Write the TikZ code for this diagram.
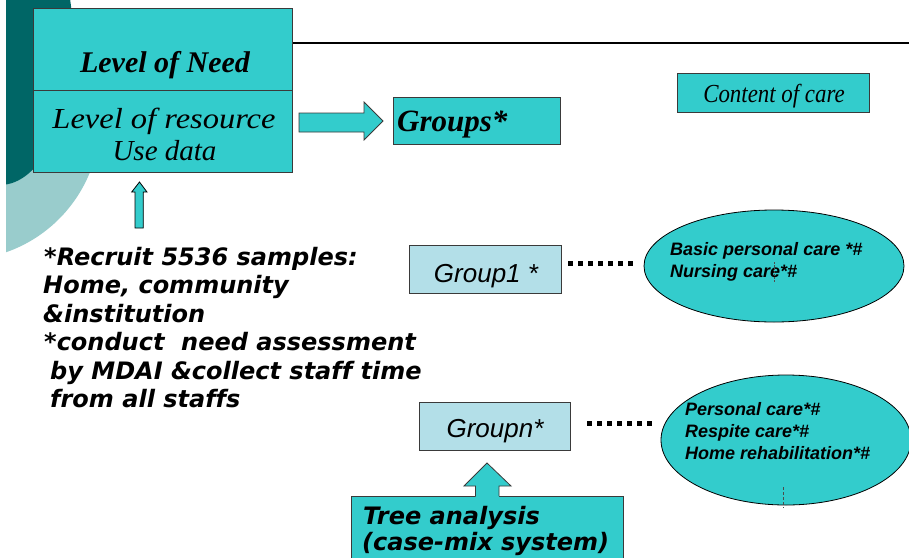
\documentclass[tikz,border=0pt]{standalone}
\usepackage{fontspec}
\setmainfont{Liberation Serif}
\newfontfamily\verd[Ligatures=NoCommon]{DejaVu Sans}
\newfontfamily\arial{Liberation Sans}
\usetikzlibrary{shapes.geometric}
\definecolor{teal1}{HTML}{33CCCC}
\definecolor{darkteal}{HTML}{006666}
\definecolor{lightteal}{HTML}{99CCCC}
\definecolor{grpfill}{HTML}{B3DFE8}
\definecolor{edgegray}{HTML}{3A3A3A}
\begin{document}
\begin{tikzpicture}[x=1pt,y=-1pt,
  tealbox/.style={draw=edgegray, line width=1pt, fill=teal1, inner sep=0pt, rectangle},
  grpbox/.style={draw=edgegray, line width=1pt, fill=grpfill, inner sep=0pt, rectangle},
  careell/.style={draw=black, line width=0.8pt, fill=teal1, ellipse, inner sep=0pt},
  blockarrow/.style={fill=teal1, draw=edgegray, line width=0.8pt, line join=miter},
  dotline/.style={line width=5pt, dash pattern=on 5pt off 5pt},
  lefttxt/.style={anchor=base west, inner sep=0pt, font=\verd\bfseries\itshape\fontsize{24}{28}\selectfont},
  elltxt/.style={anchor=base west, inner sep=0pt, font=\arial\bfseries\itshape\fontsize{18}{20}\selectfont},
  grptxt/.style={anchor=base, inner sep=0pt, font=\arial\itshape\fontsize{26}{28}\selectfont},
  treetxt/.style={anchor=base west, inner sep=0pt, font=\verd\bfseries\itshape\fontsize{24}{28}\selectfont},
  marktick/.style={line width=0.6pt, draw=black!70, dash pattern=on 1.5pt off 1.5pt}
]
\useasboundingbox (0,0) rectangle (909,557);
\clip (0,0) rectangle (909,557);
\fill[white] (0,0) rectangle (909,557);

% background decoration
\begin{scope}
  \clip (6,0) rectangle (909,557);
  \fill[lightteal] (-40,120) circle [radius=140];
  \fill[darkteal] (0,40) ellipse [x radius=73, y radius=145];
\end{scope}

% top rule
\coordinate (ruleA) at (292,43);
\coordinate (ruleB) at (909,43);
\draw[line width=2pt] (ruleA) -- (ruleB);

% main box
\node[tealbox, minimum width=259pt, minimum height=82pt] (need) at (162.5,49) {};
\node[tealbox, minimum width=259pt, minimum height=82pt] (resource) at (162.5,131) {};
\node[anchor=base, inner sep=0pt, font=\bfseries\itshape\fontsize{30}{32}\selectfont] (needtxt) at (165,72) {Level of Need};
\node[anchor=base, inner sep=0pt, font=\itshape\fontsize{29}{31}\selectfont] (restxt) at (164,128) {\scalebox{1.12}[1]{Level of resource}};
\node[anchor=base, inner sep=0pt, font=\itshape\fontsize{29}{31}\selectfont] (usetxt) at (164.5,160) {Use data};

% arrow to Groups
\filldraw[blockarrow] (299,113) -- (364,113) -- (364,102) -- (383,121) -- (364,140) -- (364,132) -- (299,132) -- cycle;

% Groups box
\node[tealbox, minimum width=167pt, minimum height=47pt] (groups) at (476.5,120.5) {};
\node[anchor=base west, inner sep=0pt, font=\bfseries\itshape\fontsize{31}{33}\selectfont] (groupstxt) at (397,131) {Groups*};

% Content of care
\node[tealbox, minimum width=192pt, minimum height=39pt] (content) at (773,92.5) {};
\node[anchor=base, inner sep=0pt, font=\itshape\fontsize{26}{28}\selectfont] (contenttxt) at (774,102) {\scalebox{0.88}[1]{Content of care}};

% small up arrow
\filldraw[fill=teal1, draw=black, line width=0.8pt] (135,228) -- (135,192) -- (131.7,192) -- (139.5,182) -- (147,192) -- (143.3,192) -- (143.3,228) -- cycle;

% left text
\node[lefttxt] (l1) at (44,265) {*Recruit 5536 samples:};
\node[lefttxt] (l2) at (43,293.5) {Home, community};
\node[lefttxt] (l3) at (43,322) {\&institution};
\node[lefttxt] (l4) at (44,350.5) {*conduct\ \ need assessment};
\node[lefttxt] (l5) at (50,379) {by MDAI \&collect staff time};
\node[lefttxt] (l6) at (50,407.5) {from all staffs};

% Group1
\node[grpbox, minimum width=152pt, minimum height=48pt] (g1) at (485.5,269) {};
\node[grptxt] (g1txt) at (486,282) {Group1 *};
\coordinate (d1a) at (568,263);
\coordinate (d1b) at (636,263);
\draw[dotline] (d1a) -- (d1b);
\node[careell, minimum width=260pt, minimum height=112pt] (e1) at (774,266) {};
\node[elltxt] (e1a) at (670,255) {Basic personal care *\#};
\node[elltxt] (e1b) at (670,277) {Nursing care*\#};
\coordinate (m1a) at (774,262);
\coordinate (m1b) at (774,283);
\draw[marktick] (m1a) -- (m1b);

% Groupn
\node[grpbox, minimum width=151pt, minimum height=48pt] (gn) at (494.5,426) {};
\node[grptxt] (gntxt) at (495,437) {Groupn*};
\coordinate (d2a) at (587,423);
\coordinate (d2b) at (653,423);
\draw[dotline] (d2a) -- (d2b);
\node[careell, minimum width=250pt, minimum height=130pt] (e2) at (786,440) {};
\node[elltxt] (e2a) at (685,415) {Personal care*\#};
\node[elltxt] (e2b) at (685,437) {Respite care*\#};
\node[elltxt] (e2c) at (685,459) {Home rehabilitation*\#};
\coordinate (m2a) at (783,487);
\coordinate (m2b) at (783,508);
\draw[marktick, dash pattern=on 3pt off 2pt] (m2a) -- (m2b);

% Tree analysis box and arrow
\node[tealbox, minimum width=272pt, minimum height=80pt] (tree) at (487,536) {};
\node[treetxt] (tree1) at (363,524) {Tree analysis};
\node[treetxt] (tree2) at (362,550) {(case-mix system)};
\fill[teal1] (475.5,497.5) -- (475.5,486) -- (464,486) -- (487,463) -- (511,486) -- (499,486) -- (499,497.5) -- cycle;
\draw[draw=edgegray, line width=0.8pt, line join=miter] (475.5,496) -- (475.5,486) -- (464,486) -- (487,463) -- (511,486) -- (499,486) -- (499,496);
\end{tikzpicture}
\end{document}
